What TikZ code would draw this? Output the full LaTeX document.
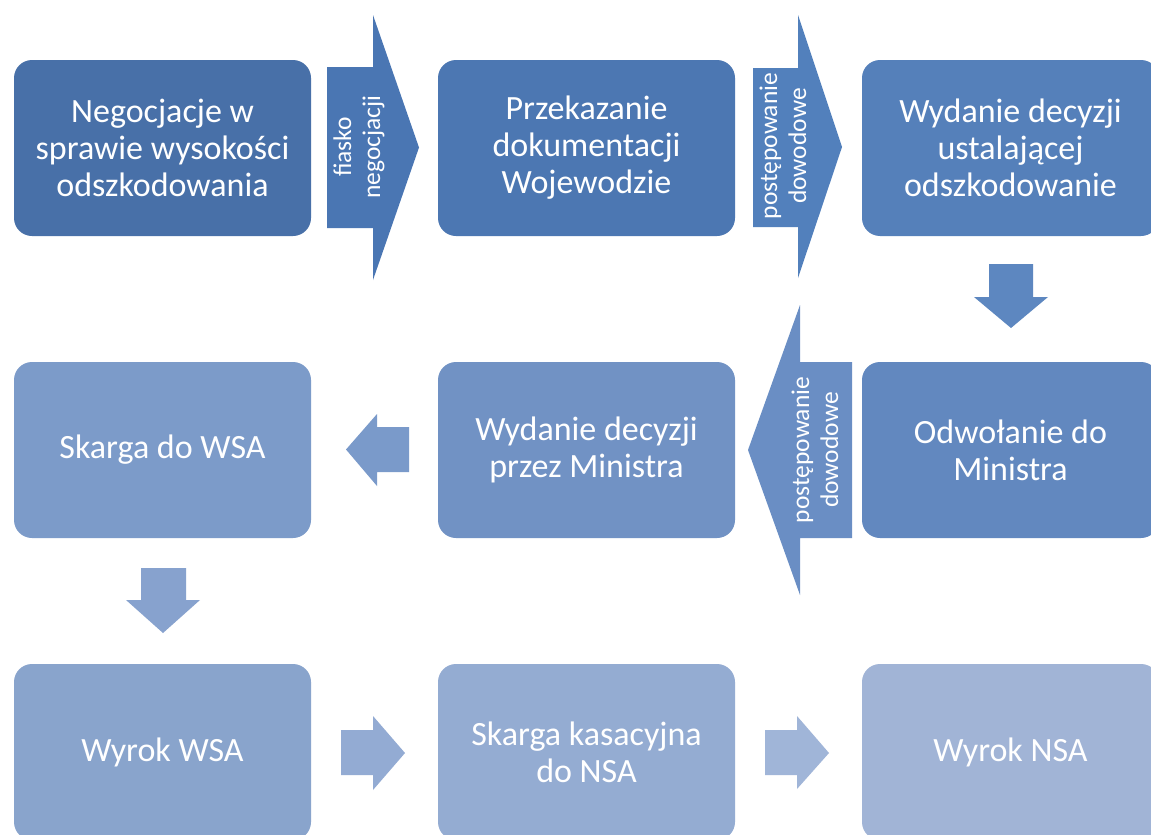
\documentclass[tikz,border=0pt]{standalone}
\usepackage{fontspec}
\setmainfont{Carlito}
\begin{document}
\begin{tikzpicture}[x=1pt,y=-1pt,
  box/.style={rounded corners=18pt, minimum width=297pt, minimum height=176pt,
    inner sep=0pt, text=white, align=center, font=\fontsize{34}{37}\selectfont},
  albl/.style={text=white, align=center, rotate=90, inner sep=0pt,
    font=\fontsize{25.5}{29}\selectfont}]
\definecolor{b1}{HTML}{4870A8}
\definecolor{b2}{HTML}{4C77B2}
\definecolor{b3}{HTML}{5580BA}
\definecolor{b4}{HTML}{6288BF}
\definecolor{b5}{HTML}{7192C4}
\definecolor{b6}{HTML}{7C9BC9}
\definecolor{b7}{HTML}{89A4CC}
\definecolor{b8}{HTML}{94ACD2}
\definecolor{b9}{HTML}{A1B4D6}
\definecolor{a1}{HTML}{4A76B3}
\definecolor{a2}{HTML}{5280BC}
\definecolor{a3}{HTML}{5D87C0}
\definecolor{a4}{HTML}{6A8EC4}
\definecolor{a5}{HTML}{7A9ACA}
\definecolor{a6}{HTML}{87A2CE}
\definecolor{a7}{HTML}{93ABD3}
\definecolor{a8}{HTML}{A0B5D8}
\useasboundingbox (0,0) rectangle (1151,835);
\clip (0,0) rectangle (1151,835);
\fill[white] (0,0) rectangle (1151,835);
% boxes
\node[box, fill=b1] (n1) at (162.5,148) {Negocjacje w\\sprawie wysokości\\odszkodowania};
\node[box, fill=b2] (n2) at (586.5,148) {Przekazanie\\dokumentacji\\Wojewodzie};
\node[box, fill=b3] (n3) at (1010.5,148) {Wydanie decyzji\\ustalającej\\odszkodowanie};
\node[box, fill=b4] (n4) at (1010.5,450) {Odwołanie do\\Ministra};
\node[box, fill=b5] (n5) at (586.5,450) {Wydanie decyzji\\przez Ministra};
\node[box, fill=b6] (n6) at (162.5,450) {Skarga do WSA};
\node[box, fill=b7] (n7) at (162.5,752) {Wyrok WSA};
\node[box, fill=b8] (n8) at (586.5,752) {Skarga kasacyjna\\do NSA};
\node[box, fill=b9] (n9) at (1010.5,752) {Wyrok NSA};
% block arrows
\fill[a1] (327,67) -- (373,67) -- (373,15) -- (419,147.5) -- (373,280) -- (373,228) -- (327,228) -- cycle;
\node[albl] (t1) at (359,147) {fiasko\\negocjacji};
\fill[a2] (753,68) -- (798,68) -- (798,15) -- (842,147) -- (798,278) -- (798,227) -- (753,227) -- cycle;
\node[albl] (t2) at (783,146) {postępowanie\\dowodowe};
\fill[a3] (989,264) -- (1033,264) -- (1033,297) -- (1048,297) -- (1011,328) -- (974,297) -- (989,297) -- cycle;
\fill[a4] (852,362) -- (852,538) -- (800,538) -- (800,595) -- (748,450) -- (800,305) -- (800,362) -- cycle;
\node[albl] (t3) at (815,450) {postępowanie\\dowodowe};
\fill[a5] (409,427) -- (409,472) -- (377,472) -- (377,486) -- (346,449.5) -- (377,414) -- (377,427) -- cycle;
\fill[a6] (141,568) -- (186,568) -- (186,600) -- (200,600) -- (163,633) -- (126,600) -- (141,600) -- cycle;
\fill[a7] (341,730) -- (373,730) -- (373,716) -- (405,753) -- (373,790) -- (373,775) -- (341,775) -- cycle;
\fill[a8] (765,730) -- (797,730) -- (797,716) -- (829,753) -- (797,789) -- (797,775) -- (765,775) -- cycle;
\end{tikzpicture}
\end{document}
